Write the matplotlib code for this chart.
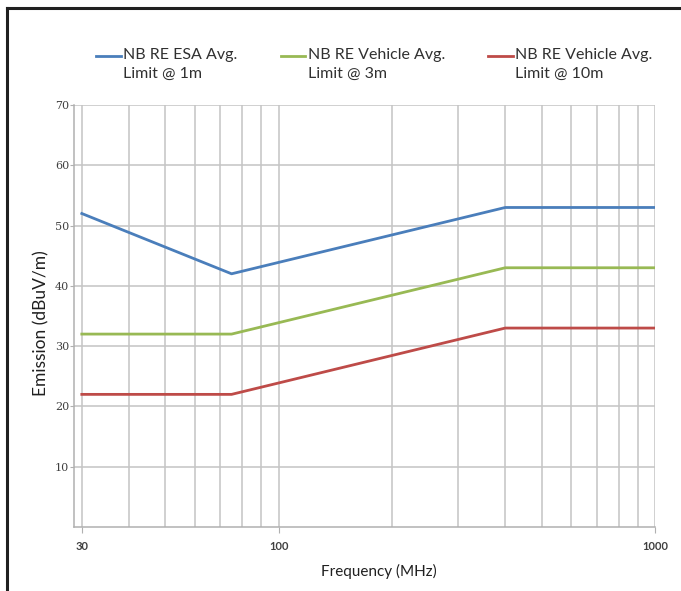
import matplotlib
matplotlib.use('Agg')
import matplotlib.pyplot as plt
import numpy as np
from matplotlib.legend_handler import HandlerLine2D
from matplotlib.lines import Line2D

freq = [30, 75, 400, 1000]
esa_1m = [52, 42, 53, 53]
vehicle_3m = [32, 32, 43, 43]
vehicle_10m = [22, 22, 33, 33]
labels = ['NB RE ESA Avg.\nLimit @ 1m',
          'NB RE Vehicle Avg.\nLimit @ 3m',
          'NB RE Vehicle Avg.\nLimit @ 10m']
colors = ['#4a7ebb', '#98b954', '#be4b48']

plt.rcParams['font.family'] = ['Lato', 'DejaVu Sans']


class TopHandler(HandlerLine2D):
    # put the legend line next to the first text line
    def create_artists(self, legend, orig_handle, xdescent, ydescent,
                       width, height, fontsize, trans):
        arts = super().create_artists(legend, orig_handle, xdescent, ydescent,
                                      width, height, fontsize, trans)
        for a in arts:
            a.set_ydata(np.asarray(a.get_ydata()) + fontsize * 0.55)
        return arts


fig = plt.figure(figsize=(6.81, 5.91), dpi=100)
ax = fig.add_axes([74 / 681, 64 / 591, 581 / 681, 422 / 591])

series = [esa_1m, vehicle_3m, vehicle_10m]
handles = []
for vals, lab, col in zip(series, labels, colors):
    h, = ax.plot(freq, vals, color=col, lw=2.0, label=lab, zorder=3)
    handles.append(h)

ax.set_xscale('log')
ax.set_xlim(28.6, 1000)
ax.set_ylim(0, 70)
ax.set_xticks([30, 100, 1000])
ax.set_xticklabels(['30', '100', '1000'])
ax.set_xticks([40, 50, 60, 70, 80, 90, 200, 300, 400, 500, 600, 700, 800, 900],
              minor=True)
ax.xaxis.set_minor_formatter(matplotlib.ticker.NullFormatter())
ax.set_yticks([10, 20, 30, 40, 50, 60, 70])
ax.grid(True, which='both', color='#c4c4c4', lw=1.1)
ax.set_axisbelow(True)
for s in ['top', 'right']:
    ax.spines[s].set_visible(False)
for s in ['left', 'bottom']:
    ax.spines[s].set_color('#b0b0b0')
    ax.spines[s].set_linewidth(1.1)
ax.tick_params(axis='x', which='major', length=4, color='#b0b0b0', pad=6,
               labelsize=8, labelcolor='#404040')
ax.tick_params(axis='x', which='minor', length=0)
ax.tick_params(axis='y', length=3, color='#b0b0b0', pad=0.5, labelsize=8,
               labelcolor='#404040')
for t in ax.get_yticklabels():
    t.set_family('DejaVu Serif')
for t in ax.get_xticklabels():
    t.set_fontweight('bold')

ax.set_xlabel('Frequency (MHz)', fontsize=11, color='#202020')
ax.xaxis.set_label_coords((379 - 74) / 581, -37 / 422)
ax.set_ylabel('Emission (dBuV/m)', fontsize=12.5, color='#202020')
ax.yaxis.set_label_coords(-25 / 581, (591 - 323 - 64) / 422)

leg = fig.legend(handles=handles, loc='upper left',
                 bbox_to_anchor=(96 / 681, 1 - 48 / 591),
                 ncol=3, frameon=False, fontsize=11.5, handlelength=1.55,
                 handletextpad=0.15, columnspacing=2.7, borderpad=0,
                 borderaxespad=0, handler_map={Line2D: TopHandler()})
for t in leg.get_texts():
    t.set_linespacing(1.45)
    t.set_color('#303030')

# screenshot frame
fig.add_artist(Line2D([7 / 681, 1], [1 - 8 / 591, 1 - 8 / 591], color='#202020', lw=2.2,
                      transform=fig.transFigure))
fig.add_artist(Line2D([7 / 681, 7 / 681], [0, 1 - 8 / 591], color='#202020', lw=2.2,
                      transform=fig.transFigure))

fig.savefig('out.png', dpi=100)
